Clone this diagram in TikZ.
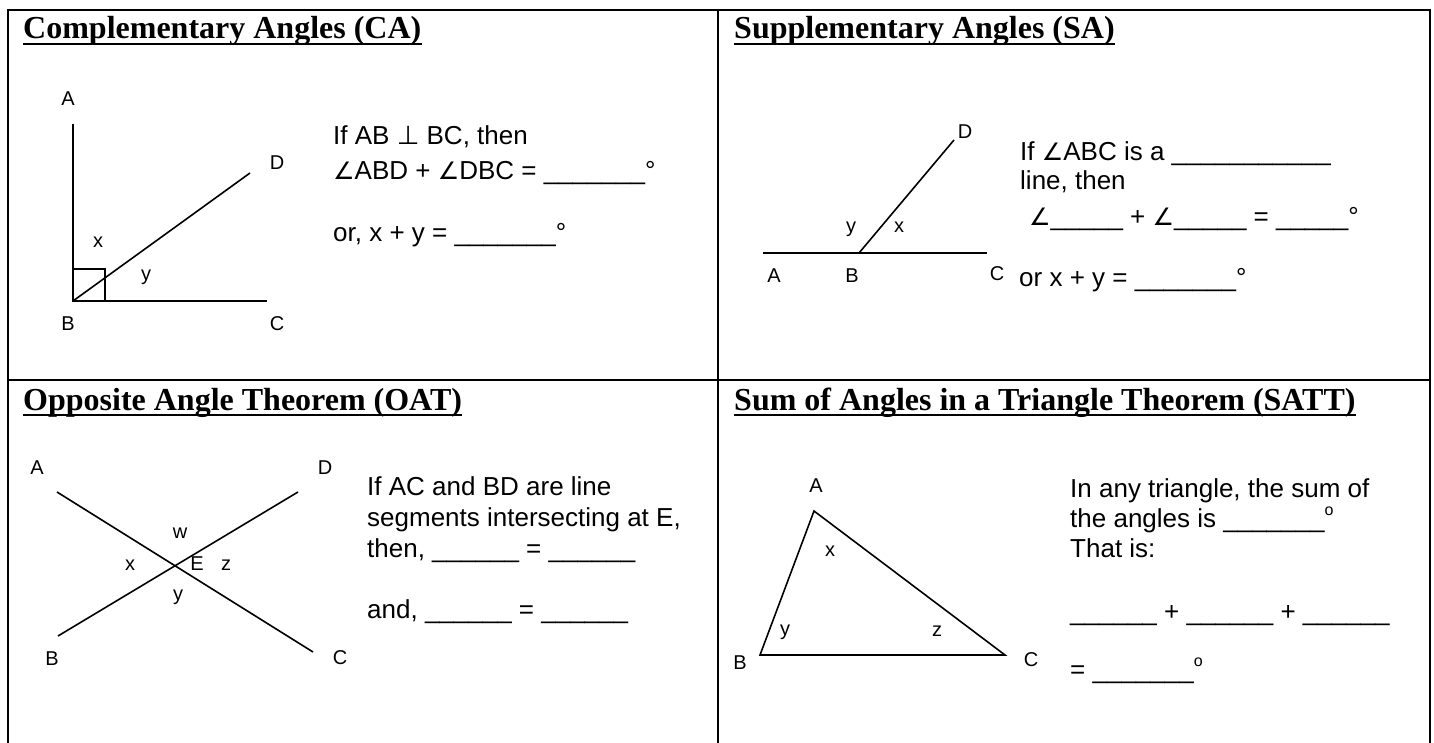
\documentclass[tikz,border=0pt]{standalone}
\usepackage{fontspec}
\setmainfont{Liberation Sans}
\newfontfamily\headfont{Liberation Serif}
\newfontfamily\symfont{DejaVu Sans}
\usepackage{tikz}
\usetikzlibrary{positioning,calc}

\newcommand{\ang}{{\symfont\fontsize{24}{24}\selectfont ∠}}
\newcommand{\degsup}{\raisebox{12pt}{\fontsize{16}{16}\selectfont o}}

\begin{document}
\begin{tikzpicture}[x=1pt, y=-1pt, line cap=butt]
\tikzstyle{frame}=[line width=2.8pt]
\tikzstyle{fig}=[line width=1.6pt]
\tikzstyle{uline}=[line width=2.5pt]
\tikzstyle{head}=[font=\headfont\bfseries\fontsize{32}{36}\selectfont, anchor=base west, inner sep=0pt]
\tikzstyle{txt}=[font=\fontsize{26}{30}\selectfont, anchor=base west, inner sep=0pt]
\tikzstyle{lbl}=[font=\fontsize{20}{24}\selectfont, anchor=base, inner sep=0pt]

\useasboundingbox (0,0) rectangle (1434,743);

% table
\draw[frame] (8,743) -- (8,10) -- (1430,10) -- (1430,743);
\draw[frame] (718,10) -- (718,743);
\draw[frame] (8,380) -- (1430,380);

% Complementary Angles
\node[head] (ca-title) at (23,39) {Complementary Angles (CA)};
\draw[uline] ([yshift=-5pt]ca-title.base west) -- ([yshift=-5pt]ca-title.base east);

\coordinate (ca-pA) at (73,124);
\coordinate (ca-pB) at (73,301);
\coordinate (ca-pC) at (267,301);
\coordinate (ca-pD) at (250,173);
\draw[fig] (ca-pA) -- (ca-pB) -- (ca-pC);
\draw[fig] (ca-pB) -- (ca-pD);
\draw[fig] (ca-pB) rectangle ($(ca-pB)+(32,-32)$);

\node[lbl] (ca-A) at (68,106) {A};
\node[lbl] (ca-B) at (68,330) {B};
\node[lbl] (ca-C) at (277,330) {C};
\node[lbl] (ca-D) at (277,170) {D};
\node[lbl] (ca-x) at (98,248) {x};
\node[lbl] (ca-y) at (146,280) {y};

\node[txt] (ca-t1) at (333,145) {If AB {\symfont ⊥} BC, then};
\node[txt] (ca-t2) at (333,180) {\ang ABD + \ang DBC = \_\_\_\_\_\_\_°};
\node[txt] (ca-t3) at (333,242) {or, x + y = \_\_\_\_\_\_\_°};

% Supplementary Angles
\node[head] (sa-title) at (734,39) {Supplementary Angles (SA)};
\draw[uline] ([yshift=-5pt]sa-title.base west) -- ([yshift=-5pt]sa-title.base east);

\coordinate (sa-pA) at (763,253);
\coordinate (sa-pB) at (859,253);
\coordinate (sa-pC) at (987,253);
\coordinate (sa-pD) at (954,140);
\draw[fig] (sa-pA) -- (sa-pC);
\draw[fig] (sa-pB) -- (sa-pD);

\node[lbl] (sa-A) at (774,282) {A};
\node[lbl] (sa-B) at (852,282) {B};
\node[lbl] (sa-C) at (997,280) {C};
\node[lbl] (sa-D) at (965,139) {D};
\node[lbl] (sa-y) at (851,233) {y};
\node[lbl] (sa-x) at (899,233) {x};

\node[txt] (sa-t1) at (1020,161) {If \ang ABC is a \_\_\_\_\_\_\_\_\_\_\_};
\node[txt] (sa-t2) at (1020,190) {line, then};
\node[txt] (sa-t3) at (1029,226) {\ang\_\_\_\_\_ + \ang\_\_\_\_\_ = \_\_\_\_\_°};
\node[txt] (sa-t4) at (1019,286) {or x + y = \_\_\_\_\_\_\_°};

% Opposite Angle Theorem
\node[head] (oat-title) at (23,410) {Opposite Angle Theorem (OAT)};
\draw[uline] ([yshift=-5pt]oat-title.base west) -- ([yshift=-5pt]oat-title.base east);

\coordinate (oat-pA) at (57,492);
\coordinate (oat-pC) at (313,652);
\coordinate (oat-pB) at (58,636);
\coordinate (oat-pD) at (298,492);
\draw[fig] (oat-pA) -- (oat-pC);
\draw[fig] (oat-pB) -- (oat-pD);

\node[lbl] (oat-A) at (37,474) {A};
\node[lbl] (oat-D) at (325,474) {D};
\node[lbl] (oat-B) at (52,665) {B};
\node[lbl] (oat-C) at (340,664) {C};
\node[lbl] (oat-w) at (180,538) {w};
\node[lbl] (oat-x) at (130,570) {x};
\node[lbl] (oat-E) at (197,570) {E};
\node[lbl] (oat-z) at (226,570) {z};
\node[lbl] (oat-y) at (178,600) {y};

\node[txt] (oat-t1) at (367,495) {If AC and BD are line};
\node[txt] (oat-t2) at (367,526) {segments intersecting at E,};
\node[txt] (oat-t3) at (367,557) {then, \_\_\_\_\_\_ = \_\_\_\_\_\_};
\node[txt] (oat-t4) at (367,618) {and, \_\_\_\_\_\_ = \_\_\_\_\_\_};

% Sum of Angles in a Triangle
\node[head] (satt-title) at (734,410) {Sum of Angles in a Triangle Theorem (SATT)};
\draw[uline] ([yshift=-5pt]satt-title.base west) -- ([yshift=-5pt]satt-title.base east);

\coordinate (satt-pA) at (814,511);
\coordinate (satt-pB) at (760,655);
\coordinate (satt-pC) at (1005,655);
\draw[fig, line join=miter] (satt-pA) -- (satt-pB) -- (satt-pC) -- cycle;

\node[lbl] (satt-A) at (816,492) {A};
\node[lbl] (satt-B) at (740,669) {B};
\node[lbl] (satt-C) at (1031,666) {C};
\node[lbl] (satt-x) at (830,556) {x};
\node[lbl] (satt-y) at (785,635) {y};
\node[lbl] (satt-z) at (937,636) {z};

\node[txt] (satt-t1) at (1070,497) {In any triangle, the sum of};
\node[txt] (satt-t2) at (1070,527) {the angles is \_\_\_\_\_\_\_\degsup};
\node[txt] (satt-t3) at (1070,557) {That is:};
\node[txt] (satt-t4) at (1070,620) {\_\_\_\_\_\_ + \_\_\_\_\_\_ + \_\_\_\_\_\_};
\node[txt] (satt-t5) at (1070,678) {= \_\_\_\_\_\_\_\degsup};
\end{tikzpicture}
\end{document}
